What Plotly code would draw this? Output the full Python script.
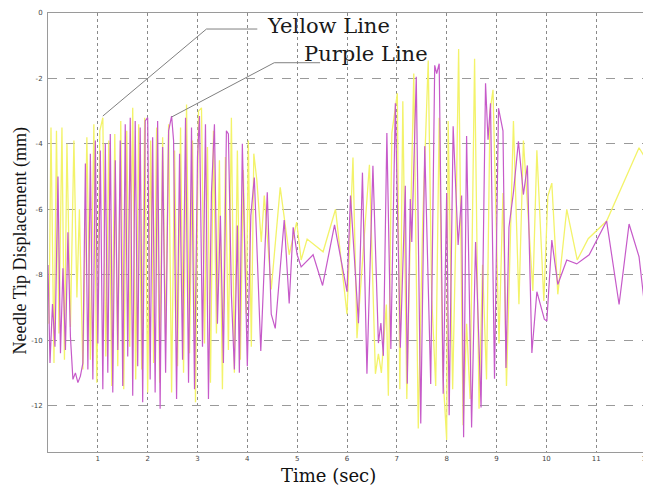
import plotly.graph_objects as go

# ---------------- data ----------------
yellow_t = [0.02,0.06,0.12,0.17,0.22,0.28,0.33,0.38,0.45,0.52,0.58,0.63,0.70,0.78,0.85,0.92,0.98,
            1.04,1.10,1.16,1.22,1.28,1.34,1.40,1.46,1.52,1.58,1.64,1.70,1.76,1.82,1.88,1.94,2.00,
            2.06,2.12,2.18,2.24,2.30,2.36,2.42,2.48,2.54,2.60,2.66,2.72,2.78,2.84,2.90,2.96,3.02,
            3.08,3.14,3.20,3.26,3.32,3.38,3.44,3.50,3.56,3.62,3.68,3.74,3.80,3.86,3.92,3.98,
            4.02,4.08,4.13,4.19,4.28,4.34,4.48,4.66,4.84,4.99,5.08,5.20,5.52,5.77,6.00,6.12,6.20,
            6.45,6.57,6.63,6.69,6.79,6.83,6.90,
            7.01,7.06,7.12,7.20,7.27,7.34,7.43,7.52,7.63,7.70,7.78,7.85,7.92,8.00,8.03,8.12,8.18,
            8.24,8.33,8.40,8.47,8.56,8.65,8.72,8.80,8.87,8.93,9.05,9.13,9.20,9.34,9.45,9.54,9.73,
            9.81,9.95,10.03,10.11,10.23,10.41,10.62,10.84,11.21,11.86,12.05]
yellow_mm = [-9.5,-3.5,-10.7,-3.6,-9.8,-3.5,-10.6,-4.0,-9.6,-3.9,-8.7,-6.0,-10.9,-3.8,-10.6,-3.4,-11.3,
             -3.6,-3.2,-10.5,-3.9,-11.4,-3.7,-10.8,-3.3,-11.5,-3.6,-10.2,-2.9,-11.2,-3.4,-10.9,-3.2,-11.6,
             -3.9,-10.7,-3.5,-11.3,-3.8,-10.0,-3.4,-11.6,-4.2,-10.8,-3.5,-11.0,-2.8,-10.4,-3.9,-11.9,-3.0,
             -2.9,-10.1,-4.1,-11.3,-3.6,-9.8,-4.5,-11.5,-4.4,-10.3,-3.2,-11.0,-4.2,-10.6,-4.8,-9.2,
             -3.9,-10.2,-4.3,-5.1,-7.0,-5.58,-8.45,-5.33,-7.39,-6.39,-7.55,-6.91,-7.30,-6.0,-9.21,-4.42,-9.94,
             -4.64,-11.03,-10.42,-11.0,-8.91,-11.7,-3.67,
             -2.45,-11.5,-2.7,-11.8,-6.5,-1.85,-12.7,-6.3,-1.45,-8.7,-11.4,-3.2,-10.9,-13.05,-3.3,-11.5,-7.0,
             -1.1,-12.6,-9.5,-11.8,-1.4,-12.1,-7.7,-11.2,-3.0,-2.35,-10.1,-5.5,-11.4,-3.3,-8.9,-3.9,-8.5,
             -4.2,-8.8,-5.6,-5.2,-8.6,-6.0,-7.55,-6.9,-6.36,-4.12,-4.6]

purple_t = [0.00,0.04,0.09,0.14,0.20,0.25,0.30,0.35,0.40,0.45,0.50,0.55,0.60,0.65,0.70,0.75,0.80,0.85,
            0.90,0.95,1.00,1.05,1.10,1.15,1.20,1.25,1.30,1.35,1.40,1.45,1.50,1.55,1.60,1.65,1.70,1.75,
            1.80,1.85,1.90,1.95,2.00,2.05,2.10,2.15,2.20,2.25,2.30,2.36,2.42,2.48,2.52,2.58,2.64,2.70,
            2.76,2.82,2.88,2.94,3.00,3.04,3.10,3.16,3.22,3.28,3.34,3.40,3.46,3.52,3.58,3.62,3.68,3.74,
            3.80,3.84,3.90,3.95,4.00,4.07,4.14,4.27,4.40,4.48,4.56,4.74,4.84,4.92,5.00,5.08,5.32,5.51,
            5.75,6.00,6.07,6.23,6.31,6.40,6.52,6.63,6.68,6.73,6.80,6.88,6.97,
            7.07,7.17,7.21,7.27,7.30,7.39,7.48,7.56,7.68,7.76,7.80,7.85,7.93,8.00,8.05,8.13,8.23,8.30,
            8.34,8.40,8.50,8.58,8.69,8.78,8.83,8.88,8.96,9.04,9.13,9.19,9.25,9.34,9.44,9.54,9.62,9.71,
            9.81,9.96,10.01,10.11,10.23,10.41,10.61,10.86,11.21,11.46,11.66,11.86,12.02]
purple_mm = [-7.7,-10.7,-8.9,-10.2,-5.0,-10.4,-7.8,-10.3,-6.7,-9.9,-11.2,-11.0,-11.3,-11.1,-10.7,-4.6,-10.9,-4.3,
             -11.2,-3.9,-10.1,-4.2,-11.5,-4.0,-11.0,-3.7,-11.6,-4.5,-10.3,-3.9,-11.4,-3.4,-10.5,-3.2,-11.7,-3.3,
             -10.8,-3.5,-11.9,-3.3,-3.2,-11.2,-3.8,-11.6,-3.3,-12.1,-4.1,-11.0,-3.6,-3.15,-3.9,-11.8,-4.3,-10.6,
             -3.2,-11.3,-3.5,-11.5,-4.4,-3.15,-10.2,-3.4,-11.8,-5.5,-3.4,-9.5,-6.2,-10.7,-3.6,-3.7,-8.6,-10.9,
             -6.5,-11.0,-4.0,-7.5,-10.8,-6.2,-5.03,-10.33,-5.48,-9.21,-9.64,-6.33,-8.88,-6.55,-7.39,-7.76,-7.39,-8.33,
             -6.48,-8.52,-5.58,-9.48,-4.88,-11.03,-4.67,-10.09,-9.48,-10.48,-3.67,-10.27,-2.76,
             -10.23,-5.28,-11.33,-5.69,-7.0,-1.95,-12.55,-4.07,-11.34,-1.6,-1.85,-1.55,-11.64,-5.5,-12.3,-3.46,-7.09,-5.58,
             -12.97,-3.76,-12.67,-7.0,-12.06,-2.15,-3.87,-2.76,-11.18,-2.91,-3.6,-10.85,-6.55,-5.48,-3.92,-5.55,-4.66,-10.39,
             -8.52,-9.36,-9.42,-6.94,-8.30,-7.55,-7.67,-7.39,-6.36,-8.91,-6.45,-7.45,-9.58]

x_ticks = [1, 2, 3, 4, 5, 6, 7, 8, 9, 10, 11, 12]
y_ticks = [0, -2, -4, -6, -8, -10, -12]

label_texts = ["Yellow Line", "Purple Line"]

# ---------------- figure ----------------
YELLOW = "#f3f36a"
PURPLE = "#c65ac9"

fig = go.Figure()
fig.add_trace(go.Scatter(x=yellow_t, y=yellow_mm, mode="lines",
                         line=dict(color=YELLOW, width=1.3), showlegend=False))
fig.add_trace(go.Scatter(x=purple_t, y=purple_mm, mode="lines",
                         line=dict(color=PURPLE, width=1.2), showlegend=False))

# leader lines for the labels (layout decoration)
fig.add_shape(type="path", path="M 1.10,-3.15 L 3.18,-0.49 L 4.20,-0.49",
              line=dict(color="#808080", width=1), xref="x", yref="y")
fig.add_shape(type="path", path="M 2.48,-3.18 L 4.54,-1.52 L 5.46,-1.52",
              line=dict(color="#808080", width=1), xref="x", yref="y")

fig.add_annotation(x=5.62, y=-0.40, text=label_texts[0], showarrow=False,
                   font=dict(family="DejaVu Serif", size=21, color="#1a1a1a"))
fig.add_annotation(x=6.38, y=-1.24, text=label_texts[1], showarrow=False,
                   font=dict(family="DejaVu Serif", size=21, color="#1a1a1a"))

# axis titles as annotations (precise placement)
fig.add_annotation(x=0.468, y=-0.024, xref="paper", yref="paper", text="Time (sec)",
                   showarrow=False, yanchor="top",
                   font=dict(family="DejaVu Serif", size=18, color="#111"))
fig.add_annotation(x=-0.0465, y=0.48, xref="paper", yref="paper",
                   text="Needle Tip Displacement (mm)", textangle=-90,
                   showarrow=False, xanchor="center",
                   font=dict(family="Liberation Serif", size=18, color="#111"))

axis_common = dict(showline=True, linecolor="#9a9a9a", linewidth=1, mirror=True,
                   ticks="", zeroline=False, ticklabeloverflow="allow",
                   tickfont=dict(family="DejaVu Sans", size=7, color="#444"))

fig.update_xaxes(range=[0, 12.02], tickvals=x_ticks, ticktext=[str(v) for v in x_ticks],
                 showgrid=True, gridcolor="#8a8a8a", gridwidth=1, griddash="dot",
                 ticklabelstandoff=0, **axis_common)
fig.update_yaxes(range=[-13.42, 0], tickvals=y_ticks, ticktext=[str(v) for v in y_ticks],
                 showgrid=True, gridcolor="#9a9a9a", gridwidth=1, griddash="dash",
                 ticklabelstandoff=3, **axis_common)

# the page adds an 8px body margin, so the figure is sized to fit the 651x491 window
fig.update_layout(width=643, height=483,
                  margin=dict(l=40, r=1, t=1, b=39),
                  paper_bgcolor="white", plot_bgcolor="white")

fig.write_html("out.html")
